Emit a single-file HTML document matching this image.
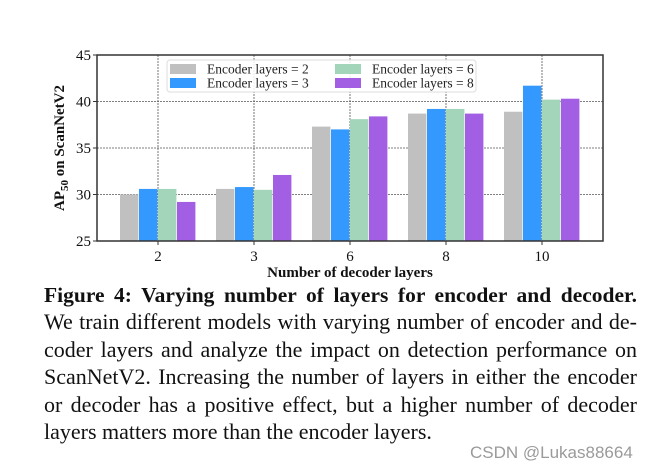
<!DOCTYPE html>
<html><head><meta charset="utf-8"><style>
body{margin:0;width:670px;height:472px;background:#fff;overflow:hidden;position:relative;font-family:"Liberation Serif",serif}
.cap{position:absolute;left:44px;width:593px;font-size:22px;color:#111;text-align:justify;text-align-last:justify;white-space:nowrap;line-height:24px}
</style></head><body>
<svg id="chart" width="670" height="285" style="position:absolute;left:0;top:0" font-family="Liberation Serif, serif"></svg>
<div class="cap" style="top:283px;font-weight:bold;font-size:21.5px">Figure 4: Varying number of layers for encoder and decoder.</div>
<div class="cap" style="top:310px">We train different models with varying number of encoder and de-</div>
<div class="cap" style="top:338px">coder layers and analyze the impact on detection performance on</div>
<div class="cap" style="top:365px">ScanNetV2. Increasing the number of layers in either the encoder</div>
<div class="cap" style="top:393px">or decoder has a positive effect, but a higher number of decoder</div>
<div class="cap" style="top:420px;text-align-last:left">layers matters more than the encoder layers.</div>
<div style="position:absolute;left:470px;top:443px;font-family:'Liberation Sans',sans-serif;font-size:17px;color:#9a9a9a">CSDN @Lukas88664</div>
<script>
const categories=["2","3","6","8","10"];
const seriesNames=["Encoder layers = 2","Encoder layers = 3","Encoder layers = 6","Encoder layers = 8"];
const enc2=[30.0,30.6,37.3,38.7,38.9];
const enc3=[30.6,30.8,37.0,39.2,41.7];
const enc6=[30.6,30.5,38.1,39.2,40.2];
const enc8=[29.2,32.1,38.4,38.7,40.3];
const yTicks=[25,30,35,40,45];
const colors=["#c0c0c0","#3399ff","#a3d5bb","#a25fe3"];
const series=[enc2,enc3,enc6,enc8];
const NS="http://www.w3.org/2000/svg";
const svg=document.getElementById('chart');
const L=97,R=603,T=55,B=241,yMin=25,yMax=45,pad=61;
const y=v=>B-(v-yMin)/(yMax-yMin)*(B-T);
const step=(R-L-2*pad)/(categories.length-1);
const x=i=>L+pad+step*i;
const bw=19;
function mk(t,a){const e=document.createElementNS(NS,t);for(const k in a)e.setAttribute(k,a[k]);svg.appendChild(e);return e;}
yTicks.forEach(t=>{
  const g=mk('line',{x1:L,x2:R,y1:y(t),y2:y(t),stroke:'#555','stroke-width':0.8,'stroke-dasharray':'2,1'});
  
  
  const tx=mk('text',{x:L-6,y:y(t)+5,'text-anchor':'end','font-size':15,fill:'#111'});
  tx.textContent=t;
  
  
  mk('line',{x1:L-4,x2:L,y1:y(t),y2:y(t),stroke:'#333'});
});
categories.forEach((c,i)=>{
  const g=mk('line',{x1:x(i),x2:x(i),y1:T,y2:B,stroke:'#555','stroke-width':0.8,'stroke-dasharray':'2,1'});
  
  
  const tx=mk('text',{x:x(i),y:B+20,'text-anchor':'middle','font-size':15,fill:'#111'});
  tx.textContent=c;
  
  
  mk('line',{x1:x(i),x2:x(i),y1:B,y2:B+4,stroke:'#333'});
});
series.forEach((s,k)=>{
  s.forEach((v,i)=>{
    const bx=x(i)+(k-2)*bw;
    const r=mk('rect',{x:bx,y:y(v),width:bw-0.6,height:B-y(v),fill:colors[k]});
    
    
  });
});
const fr=mk('rect',{x:L,y:T,width:R-L,height:B-T,fill:'none',stroke:'#333','stroke-width':1.5});


const lg=mk('rect',{x:167,y:60,width:309,height:32,rx:3,fill:'rgba(255,255,255,0.85)',stroke:'#ddd'});


const pos=[[170,69],[170,83],[335,69],[335,83]];
seriesNames.forEach((n,k)=>{
  const sw=mk('rect',{x:pos[k][0],y:pos[k][1]-5,width:26,height:10,fill:colors[k]});
  
  
  const t=mk('text',{x:pos[k][0]+37,y:pos[k][1]+4.5,'font-size':13.5,fill:'#222'});
  t.textContent=n;
  
  
});
const xt=mk('text',{x:(L+R)/2,y:277,'text-anchor':'middle','font-size':15,'font-weight':'bold',fill:'#111'});
xt.textContent='Number of decoder layers';


const yt=mk('text',{x:0,y:0,'text-anchor':'middle','font-size':15,'font-weight':'bold',fill:'#111',transform:'translate(64,148) rotate(-90)'});
yt.innerHTML='AP<tspan font-size="11" dy="4">50</tspan><tspan dy="-4"> on ScanNetV2</tspan>';


</script>
</body></html>
